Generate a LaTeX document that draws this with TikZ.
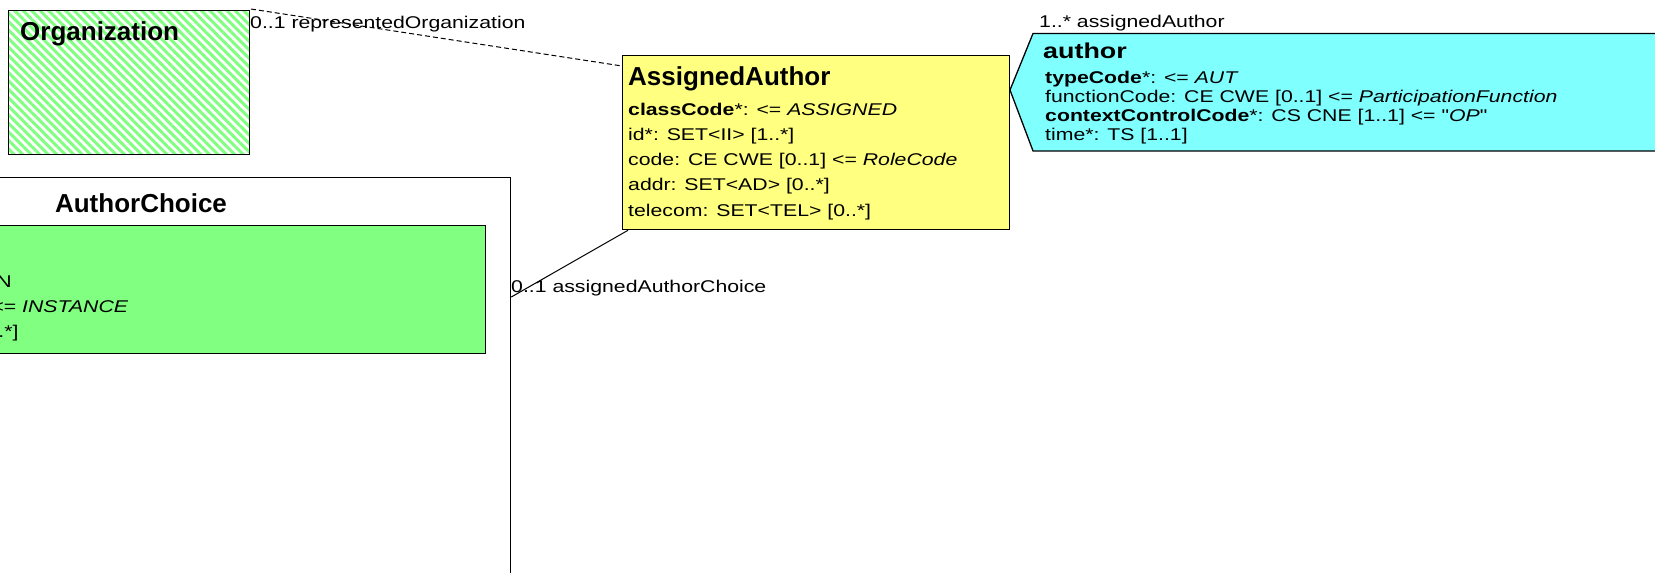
\documentclass[tikz,border=0pt]{standalone}
\usepackage{fontspec}
\setmainfont{Liberation Sans}
\newfontfamily\widesans{Liberation Sans}[FakeStretch=1.25]
\usetikzlibrary{matrix,patterns.meta}

\definecolor{rimyellow}{RGB}{255,255,128}
\definecolor{rimcyan}{RGB}{128,255,255}
\definecolor{rimgreen}{RGB}{128,255,128}

\tikzset{
  classbox/.style={draw, line width=1.3pt, anchor=north west, inner sep=0pt},
  classname/.style={anchor=base west, inner sep=0pt, font=\bfseries\fontsize{#1}{#1}\selectfont},
  widetext/.style={anchor=base west, inner sep=0pt, font=\widesans\fontsize{17}{20}\selectfont},
  attrlist/.style={matrix of nodes, inner sep=0pt, row sep=6.25pt,
    nodes={anchor=base west, inner sep=0pt, text height=14pt, text depth=5pt,
      font=\widesans\fontsize{17}{20}\selectfont}},
  actlist/.style={matrix of nodes, inner sep=0pt, row sep=2pt,
    nodes={anchor=base west, inner sep=0pt, text height=13pt, text depth=4pt,
      font=\widesans\fontsize{17}{19}\selectfont}},
  assocdash/.style={line width=1pt, dash pattern=on 5pt off 3pt},
  assocline/.style={line width=1pt}
}

\begin{document}
\begin{tikzpicture}[x=1pt,y=-1pt]
  \useasboundingbox (0,0) rectangle (1655,573);
  \clip (0,0) rectangle (1655,573);

  % choice box and its (cut off) member
  \node[classbox, fill=white, minimum width=738pt, minimum height=500pt] (choice) at (-228,177) {};
  \node[classname=26, anchor=base] (choicename) at (141,212) {AuthorChoice};
  \node[classbox, fill=rimgreen, line width=1.1pt, minimum width=688pt, minimum height=128pt] (person) at (-203,225) {};
  \node[widetext] (person1) at (-3.7,287) {N};
  \node[widetext] (person2) at (-8.7,312) {<= \textit{INSTANCE}};
  \node[widetext] (person3) at (-1.8,337) {.*]};

  % scoper
  \node[classbox, minimum width=241pt, minimum height=144pt, preaction={fill=white},
    pattern={Lines[angle=-45,distance=6pt,line width=3pt]}, pattern color=rimgreen] (org) at (7,9) {};
  \node[classname=26] (orgname) at (20,40.7) {Organization};

  % focal class
  \node[classbox, fill=rimyellow, minimum width=387pt, minimum height=174pt] (aa) at (622,55) {};
  \node[classname=26] (aaname) at (628,85) {AssignedAuthor};
  \matrix (aaattr) [attrlist, anchor=north west] at (628,101) {
    \textbf{classCode}*: <= \textit{ASSIGNED} \\
    id*: SET<II> [1..*] \\
    code: CE CWE [0..1] <= \textit{RoleCode} \\
    addr: SET<AD> [0..*] \\
    telecom: SET<TEL> [0..*] \\
  };

  % participation
  \node[inner sep=0pt, anchor=north west, minimum width=700pt, minimum height=117pt] (auth) at (1033,33.5) {};
  \coordinate (authtip) at (1010,90);
  \draw[fill=rimcyan, line width=1.3pt] (auth.north west) -- (authtip) -- (auth.south west)
    -- (auth.south east) -- (auth.north east) -- cycle;
  \node[anchor=base west, inner sep=0pt, font=\widesans\bfseries\fontsize{21.5}{22}\selectfont] (authname) at (1043,58) {author};
  \matrix (authattr) [actlist, anchor=north west] at (1045,70) {
    \textbf{typeCode}*: <= \textit{AUT} \\
    functionCode: CE CWE [0..1] <= \textit{ParticipationFunction} \\
    \textbf{contextControlCode}*: CS CNE [1..1] <= "\textit{OP}" \\
    time*: TS [1..1] \\
  };

  % associations
  \draw[assocdash] (org.north east) -- ([yshift=-11pt]aa.north west);
  \draw[assocline] ([xshift=6pt]aa.south west) -- ([yshift=-120pt]choice.north east);
  \node[widetext] (orgrole) at (250,28) {0..1 representedOrganization};
  \node[widetext] (authrole) at (1039,27) {1..* assignedAuthor};
  \node[widetext] (choicerole) at (511,292) {0..1 assignedAuthorChoice};
\end{tikzpicture}
\end{document}
